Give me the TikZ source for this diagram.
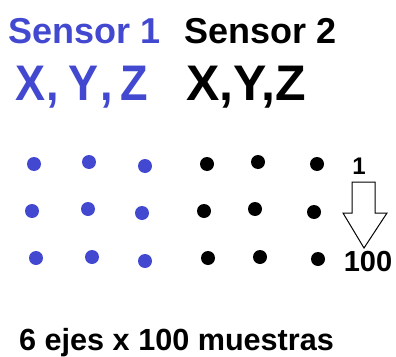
\documentclass[tikz,border=0pt]{standalone}
\usepackage{fontspec}
\setmainfont{Liberation Sans}
\definecolor{sensorblue}{RGB}{66,72,208}
\tikzset{
  heading/.style={inner sep=0pt, anchor=base west, font=\bfseries\fontsize{36}{40}\selectfont},
  axes/.style={inner sep=0pt, anchor=base west, font=\bfseries\fontsize{50}{56}\selectfont},
  sample/.style={circle, fill, inner sep=0pt, minimum size=14pt},
  index/.style={inner sep=0pt, font=\bfseries\fontsize{#1}{#1}\selectfont},
}
\begin{document}
\begin{tikzpicture}[x=1pt,y=-1pt]
        \useasboundingbox (0,0) rectangle (396,356);

        % Sensor headings
        \node[heading, sensorblue] (s1) at (8,43) {Sensor 1};
        \node[heading] (s2) at (184,43) {Sensor 2};

        % Axes of each sensor
        \node[axes, sensorblue, xscale=0.9] (xyz1) at (15,100) {X\kern2pt,\kern10pt Y\kern2pt,\kern9pt Z};
        \node[axes] (xyz2) at (186,100) {X,Y,Z};

        % Samples, sensor 1
        \foreach \x/\y [count=\i] in {34/164, 89/162, 145/166, 32/211, 88/209, 142/213, 36/258, 92/257, 145/261}
          \node[sample, sensorblue] (a\i) at (\x,\y) {};

        % Samples, sensor 2
        \foreach \x/\y [count=\i] in {207/164, 258/162, 317/164, 204/211, 255/209, 314/212, 208/258, 260/257, 318/259}
          \node[sample, black] (b\i) at (\x,\y) {};

        % Sample index, first to last
        \node[index=24] (first) at (359,166) {1};
        \node[index=29] (last) at (368,262) {100};
        \draw[line width=1pt, line join=miter]
          (352,182) -- (375,182) -- (375,213) -- (387,213) -- (364,248)
          -- (343,213) -- (352,213) -- cycle;

        % Total
        \node[heading, font=\bfseries\fontsize{30.6}{34}\selectfont] (total) at (19,350) {6 ejes x 100 muestras};
\end{tikzpicture}
\end{document}
